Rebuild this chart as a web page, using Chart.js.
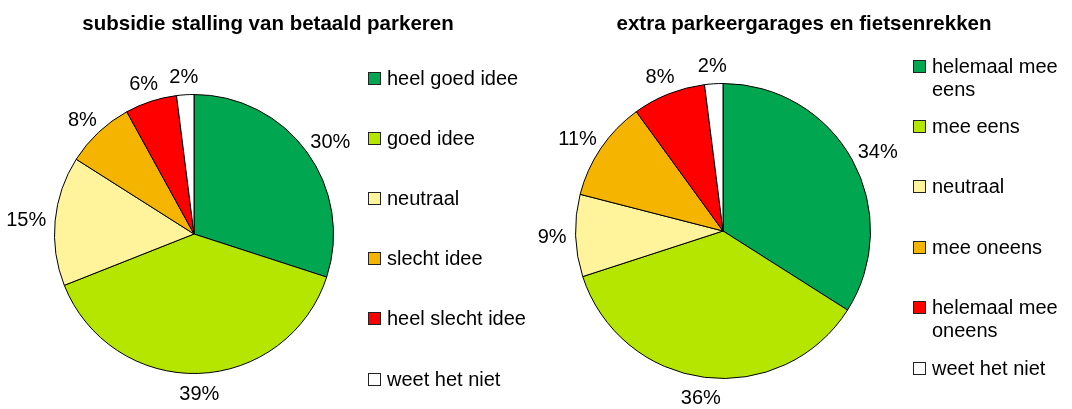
<!DOCTYPE html>
<html>
<head>
<meta charset="utf-8">
<script src="https://cdn.jsdelivr.net/npm/chart.js@4"></script>
<style>
  body { margin: 0; background: #fff; font-family: "Liberation Sans", Arial, sans-serif; }
  #wrap { position: relative; width: 1072px; height: 409px; overflow: hidden; }
  canvas { position: absolute; left: 0; top: 0; }
  .title { position: absolute; top: 11px; width: 536px; text-align: center; font-weight: bold; font-size: 20.5px; line-height: 24px; color: #000; }
  .legend { position: absolute; top: 0; font-size: 20px; color: #000; }
  .item { position: absolute; left: 0; display: flex; align-items: flex-start; line-height: 23px; white-space: nowrap; }
  .box { width: 11px; height: 11px; border: 1px solid #222; margin: 5px 6px 0 0; flex: none; }
</style>
</head>
<body>
<div id="wrap">
  <canvas id="leftChart"></canvas>
  <canvas id="rightChart"></canvas>
  <div class="title" id="leftTitle" style="left:0"></div>
  <div class="title" id="rightTitle" style="left:536px"></div>
  <div class="legend" id="leftLegend" style="left:368px"></div>
  <div class="legend" id="rightLegend" style="left:913px"></div>
</div>
<script>
// data
const titleLeft = "subsidie stalling van betaald parkeren";
const labelsLeft = ["heel goed idee", "goed idee", "neutraal", "slecht idee", "heel slecht idee", "weet het niet"];
const valuesLeft = [30, 39, 15, 8, 6, 2];

const titleRight = "extra parkeergarages en fietsenrekken";
const labelsRight = [["helemaal mee", "eens"], "mee eens", "neutraal", "mee oneens", ["helemaal mee", "oneens"], "weet het niet"];
const valuesRight = [34, 36, 9, 11, 8, 2];

const sliceColors = ["#00A650", "#B4E600", "#FFF39C", "#F5B400", "#FF0000", "#FFFFFF"];

const W = 1072, H = 409;

// percentage labels outside the pie
const outsideLabels = {
  id: "outsideLabels",
  afterDatasetsDraw(chart) {
    const ctx = chart.ctx;
    const meta = chart.getDatasetMeta(0);
    const values = chart.data.datasets[0].data;
    const gapX = 9, gapY = 12;
    const capH = 14.5;
    ctx.save();
    ctx.font = '20px "Liberation Sans", Arial, sans-serif';
    ctx.fillStyle = "#000";
    ctx.textAlign = "center";
    ctx.textBaseline = "alphabetic";
    meta.data.forEach((arc, i) => {
      const { x, y, startAngle, endAngle, outerRadius } = arc.getProps(["x", "y", "startAngle", "endAngle", "outerRadius"], true);
      const mid = (startAngle + endAngle) / 2;
      const ux = Math.cos(mid);
      const uy = Math.sin(mid);
      const txt = values[i] + "%";
      const w = ctx.measureText(txt).width;
      const tx = x + (outerRadius + gapX + w / 2) * ux;
      const ty = y + (outerRadius + gapY + capH / 2) * uy;
      ctx.fillText(txt, tx, ty + capH / 2);
    });
    ctx.restore();
  }
};

function makePie(canvasId, labels, values, cx, cy, r) {
  const canvas = document.getElementById(canvasId);
  canvas.width = W;
  canvas.height = H;
  return new Chart(canvas, {
    type: "pie",
    data: {
      labels: labels.map(l => Array.isArray(l) ? l.join(" ") : l),
      datasets: [{
        data: values,
        backgroundColor: sliceColors,
        borderColor: "#000",
        borderWidth: 1
      }]
    },
    options: {
      responsive: false,
      animation: false,
      events: [],
      layout: {
        padding: { left: cx - r, right: W - cx - r, top: cy - r, bottom: H - cy - r }
      },
      plugins: {
        legend: { display: false },
        tooltip: { enabled: false }
      }
    },
    plugins: [outsideLabels]
  });
}

function makeLegend(elId, labels, startY, step) {
  const el = document.getElementById(elId);
  labels.forEach((l, i) => {
    const item = document.createElement("div");
    item.className = "item";
    item.style.top = (startY + i * step - 11.5) + "px";
    const box = document.createElement("span");
    box.className = "box";
    box.style.background = sliceColors[i];
    const txt = document.createElement("span");
    txt.innerHTML = Array.isArray(l) ? l.join("<br>") : l;
    item.appendChild(box);
    item.appendChild(txt);
    el.appendChild(item);
  });
}

document.getElementById("leftTitle").textContent = titleLeft;
document.getElementById("rightTitle").textContent = titleRight;

makePie("leftChart", labelsLeft, valuesLeft, 194, 234, 140);
makePie("rightChart", labelsRight, valuesRight, 723, 231, 148);

makeLegend("leftLegend", labelsLeft, 78, 60.2);
makeLegend("rightLegend", labelsRight, 66, 60.4);
</script>
</body>
</html>
